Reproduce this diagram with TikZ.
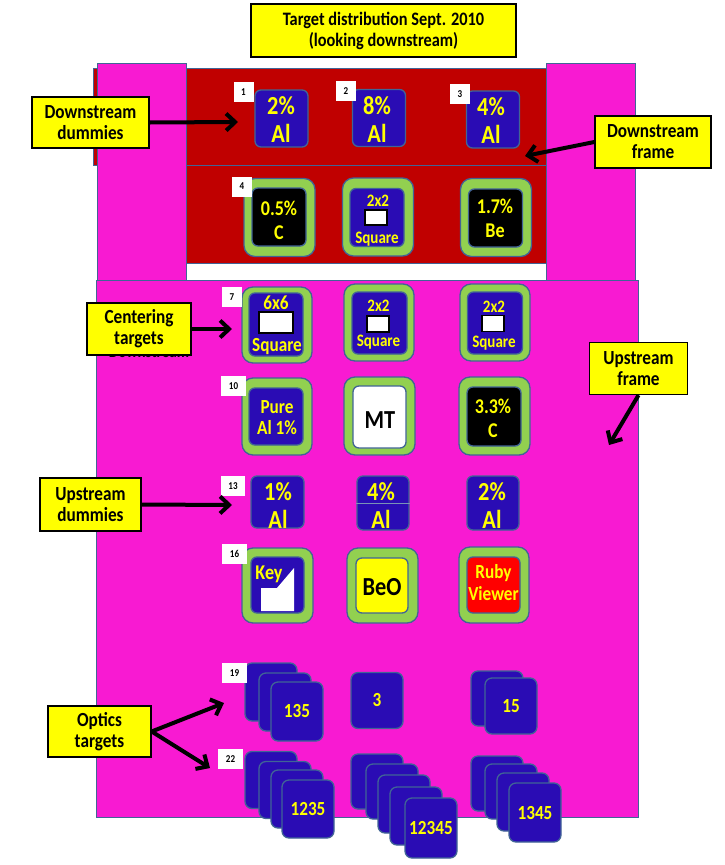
\documentclass[tikz,border=0pt]{standalone}
\usepackage{fontspec}
\setmainfont{Carlito}[FakeStretch=0.86]
\usetikzlibrary{arrows.meta}
\definecolor{mag}{RGB}{248,26,210}
\definecolor{dred}{RGB}{192,0,0}
\definecolor{tblue}{RGB}{42,12,180}
\definecolor{tgreen}{RGB}{146,208,80}
\definecolor{edge}{RGB}{65,100,150}
\definecolor{yel}{RGB}{255,255,0}
\newcommand{\fs}[2]{\fontsize{#1}{#2}\selectfont\bfseries}
\begin{document}
\begin{tikzpicture}[x=1pt,y=-1pt,
  frame/.style={draw=edge,line width=1pt},
  callout/.style={draw=black,line width=1.3pt,fill=yel,align=center,inner sep=0pt,font=\fs{20}{21}},
  ring/.style={draw=edge,line width=1.3pt,fill=tgreen,rounded corners=11pt,minimum width=71pt,minimum height=78pt,inner sep=0pt},
  tgt/.style={draw=edge,line width=1.3pt,fill=tblue,rounded corners=6pt,minimum width=54pt,minimum height=58pt,inner sep=0pt},
  card/.style={draw=edge,line width=1.3pt,fill=tblue,rounded corners=7pt,minimum width=52pt,minimum height=57pt,inner sep=0pt,text=yel,font=\fs{20}{20}},
  tt/.style={text=yel,align=center,inner sep=0pt},
  numlbl/.style={fill=white,minimum width=20pt,minimum height=20pt,inner sep=1pt,font=\fs{10.5}{10}},
  sqbox/.style={draw=black,line width=1.3pt,fill=white,inner sep=0pt},
  arr/.style={line width=4pt,-{Straight Barb[length=9pt,width=17pt]}}
]
\useasboundingbox (0,0) rectangle (724,865);

% title
\node[callout,font=\fs{19}{21},minimum width=265pt,minimum height=53pt] (title) at (383.5,30.5) {Target distribution Sept. 2010\\(looking downstream)};

% frames
\draw[frame,fill=dred] (93,68) rectangle (551,165);
\draw[frame,fill=dred] (186,165) rectangle (548,263);
\draw[frame,fill=white] (186,263) rectangle (548,280);
\draw[frame,fill=mag] (97,63) rectangle (186,280);
\draw[frame,fill=mag] (546,63) rectangle (635,280);
\draw[frame,fill=mag] (96,280) rectangle (638,817);

% downstream dummies
\node[tgt,minimum width=53pt,minimum height=57pt] (t1) at (281.5,118.5) {};
\node[tgt,minimum width=53pt,minimum height=57pt] (t2) at (379,118) {};
\node[tgt,minimum width=53pt,minimum height=57pt] (t3) at (493,119.5) {};
\node[tt,font=\fs{26}{28}] (t1l) at (281,120) {2\%\\Al};
\node[tt,font=\fs{26}{28}] (t2l) at (377,119.5) {8\%\\Al};
\node[tt,font=\fs{26}{28}] (t3l) at (491,121) {4\%\\Al};
\node[numlbl] (n1) at (243.5,92) {1};
\node[numlbl] (n2) at (346,91) {2};
\node[numlbl] (n3) at (460,94) {3};

% row 2
\node[ring] (r4) at (279.5,217.5) {};
\node[tgt,fill=black] (t4) at (279,217) {};
\node[tt,font=\fs{21}{24}] (t4l) at (279,220.5) {0.5\%\\C};
\node[ring] (r5) at (378,217) {};
\node[tgt] (t5) at (377,217.5) {};
\node[tt,font=\fs{17.5}{18}] (t5a) at (378,201) {2x2};
\node[sqbox,minimum width=22pt,minimum height=15pt] (t5s) at (376,217.5) {};
\node[tt,font=\fs{17.5}{18}] (t5b) at (377,239) {Square};
\node[ring] (r6) at (496,217.5) {};
\node[tgt,fill=black] (t6) at (495.5,218) {};
\node[tt,font=\fs{21}{24}] (t6l) at (495,218.5) {1.7\%\\Be};
\node[numlbl] (n4) at (242,186.5) {4};

% "Downstream" text hidden behind the callout
\node[anchor=base,inner sep=0pt,font=\fs{17.5}{18}] (hid) at (149,357) {Downstream};

% centering targets
\node[ring,minimum width=70pt,minimum height=76pt] (r7) at (277,325) {};
\node[tgt,minimum height=63pt] (t7) at (276,324.5) {};
\node[tt,font=\fs{20}{20}] (t7a) at (276,303) {6x6};
\node[sqbox,minimum width=34pt,minimum height=21pt] (t7s) at (276,322.5) {};
\node[tt,font=\fs{20}{20}] (t7b) at (277,346.5) {Square};
\node[ring,minimum width=70pt,minimum height=77pt] (r8) at (379,322.5) {};
\node[tgt,minimum width=55pt,minimum height=62pt] (t8) at (379.5,323) {};
\node[tt,font=\fs{17.5}{18}] (t8a) at (378.5,306) {2x2};
\node[sqbox,minimum width=22pt,minimum height=16pt] (t8s) at (378,324) {};
\node[tt,font=\fs{17.5}{18}] (t8b) at (378.5,342.5) {Square};
\node[ring,minimum width=70pt,minimum height=77pt] (r9) at (495,322.5) {};
\node[tgt,minimum width=55pt,minimum height=62pt] (t9) at (495,323) {};
\node[tt,font=\fs{17.5}{18}] (t9a) at (494,306.5) {2x2};
\node[sqbox,minimum width=22pt,minimum height=16pt] (t9s) at (493,323.5) {};
\node[tt,font=\fs{17.5}{18}] (t9b) at (494,343) {Square};
\node[numlbl] (n7) at (232,297) {7};

% row 4
\node[ring,minimum width=70pt,minimum height=77pt] (r10) at (277,416.5) {};
\node[tgt,minimum height=57pt] (t10) at (276,416.5) {};
\node[tt,font=\fs{20}{21}] (t10l) at (277,417.5) {Pure\\Al 1\%};
\node[ring] (r11) at (379.5,416) {};
\node[tgt,fill=white,minimum width=53pt,minimum height=62pt] (t11) at (379.5,417) {};
\node[tt,text=black,font=\fs{26}{26}] (t11l) at (380,420) {MT};
\node[ring] (r12) at (494.5,416) {};
\node[tgt,fill=black,minimum height=59pt] (t12) at (494,416.5) {};
\node[tt,font=\fs{21}{24}] (t12l) at (493,418.5) {3.3\%\\C};
\node[numlbl,minimum width=25pt] (n10) at (233.5,386) {10};

% upstream dummies
\node[tgt,minimum width=53pt,minimum height=52pt] (t13) at (277.5,502) {};
\node[tgt,minimum width=52pt,minimum height=54pt] (t14) at (383,503) {};
\draw[edge!70!white,line width=1pt] (t14.west) -- (t14.east);
\node[tgt,minimum width=52pt,minimum height=54pt] (t15) at (493,503) {};
\node[tt,font=\fs{26}{28}] (t13l) at (278,506) {1\%\\Al};
\node[tt,font=\fs{26}{28}] (t14l) at (381,506) {4\%\\Al};
\node[tt,font=\fs{26}{28}] (t15l) at (492,506) {2\%\\Al};
\node[numlbl,minimum width=24pt] (n13) at (233,486) {13};

% row 6
\node[ring,minimum height=75pt] (r16) at (277.5,585.5) {};
\node[tgt,minimum width=53pt,minimum height=56pt] (t16) at (277.5,585) {};
\fill[white] (261,611) -- (261,588) -- (277,588) -- (294,568) -- (294,611) -- cycle;
\node[tt,font=\fs{21}{20}] (t16l) at (269,574) {Key};
\node[ring,minimum height=75pt] (r17) at (382.5,585.5) {};
\node[tgt,fill=yel,minimum width=52pt,minimum height=55pt] (t17) at (382,585.5) {};
\node[tt,text=black,font=\fs{26}{26}] (t17l) at (382,587.5) {BeO};
\node[ring,minimum width=70pt,minimum height=76pt] (r18) at (494,585) {};
\node[tgt,fill=red,minimum width=53pt,minimum height=56pt] (t18) at (493.5,585) {};
\node[tt,font=\fs{20}{22}] (t18l) at (493.5,583) {Ruby\\Viewer};
\node[numlbl,minimum width=25pt] (n16) at (234.5,554) {16};

% optics row 1
\node[card,minimum height=58pt] (o1a) at (271,692) {};
\node[card,minimum height=58pt] (o1b) at (285,702) {};
\node[card,minimum height=59pt] (o1c) at (297,711.5) {135};
\node[card,minimum height=56pt] (o2) at (377,700.5) {3};
\node[card,minimum height=55pt] (o3a) at (497,698.5) {};
\node[card,minimum height=56pt] (o3b) at (511,706) {15};
\node[numlbl,minimum width=25pt] (n19) at (234.5,673) {19};

% optics row 2
\node[card] (o4a) at (271,780) {};
\node[card] (o4b) at (285,790) {};
\node[card,minimum height=58pt] (o4c) at (297,799) {};
\node[card,minimum height=58pt] (o4d) at (308,809) {1235};
\node[card,minimum height=55pt] (o5a) at (377,781.5) {};
\node[card,minimum height=55pt] (o5b) at (392,791.5) {};
\node[card,minimum height=58pt] (o5c) at (404,804) {};
\node[card,minimum height=58pt] (o5d) at (416,816) {};
\node[card,minimum height=60pt] (o5e) at (431,828) {12345};
\node[card,minimum height=55pt] (o6a) at (497,783.5) {};
\node[card,minimum height=55pt] (o6b) at (511,791.5) {};
\node[card,minimum height=58pt] (o6c) at (523,802) {};
\node[card,minimum height=59pt] (o6d) at (535,812.5) {1345};
\node[numlbl,minimum width=25pt] (n22) at (230.5,759) {22};

% callouts
\node[callout,minimum width=117pt,minimum height=51pt] (dd) at (90.5,122.5) {Downstream\\dummies};
\node[callout,minimum width=116pt,minimum height=52pt] (df) at (653,142) {Downstream\\frame};
\node[callout,minimum width=104pt,minimum height=52pt] (ct) at (139,329) {Centering\\targets};
\node[callout,minimum width=98pt,minimum height=52pt] (uf) at (638.5,368.5) {Upstream\\frame};
\node[callout,minimum width=101pt,minimum height=53pt] (ud) at (90.5,504.5) {Upstream\\dummies};
\node[callout,minimum width=103pt,minimum height=51pt] (ot) at (99.5,731.5) {Optics\\targets};

% arrow ends
\coordinate (a1) at (238,122);
\coordinate (a2) at (525,156);
\coordinate (a3) at (232,329);
\coordinate (a4) at (609,445);
\coordinate (a5) at (232,505);
\coordinate (a6) at (224,703);
\coordinate (a7) at (210,768);
\draw[arr] (dd.east) -- (a1);
\draw[arr] (df.west) -- (a2);
\draw[arr] (ct.east) -- (a3);
\draw[arr] (uf.south) -- (a4);
\draw[arr] (ud.east) -- (a5);
\draw[arr] (ot.east) -- (a6);
\draw[arr] (ot.east) -- (a7);
\end{tikzpicture}
\end{document}
